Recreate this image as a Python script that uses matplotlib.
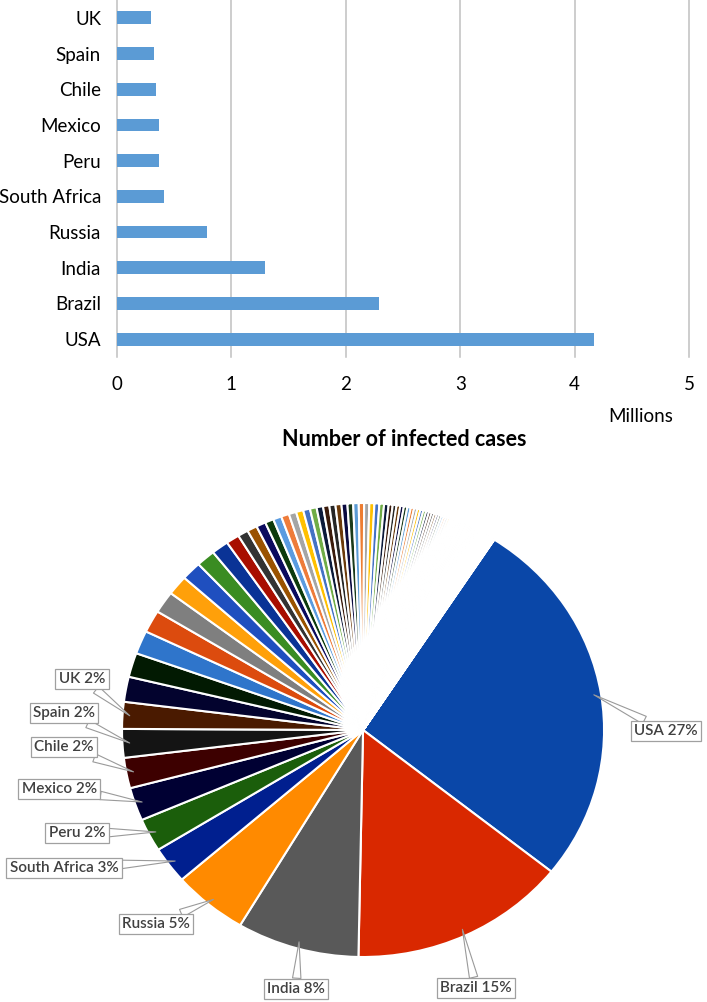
import numpy as np
import matplotlib
matplotlib.use("Agg")
import matplotlib.pyplot as plt

plt.rcParams['font.family'] = ['Lato', 'DejaVu Sans']

# ---------------- data ----------------
countries = ["USA", "Brazil", "India", "Russia", "South Africa",
             "Peru", "Mexico", "Chile", "Spain", "UK"]
cases_millions = [4.17, 2.29, 1.29, 0.79, 0.41, 0.37, 0.37, 0.34, 0.32, 0.30]

# remaining countries in the pie (millions)
other_cases = [0.28, 0.27, 0.26, 0.25, 0.245, 0.22, 0.21, 0.20, 0.18, 0.14,
               0.11, 0.105, 0.10, 0.09, 0.088, 0.084, 0.078, 0.076, 0.072, 0.070,
               0.068, 0.066, 0.064, 0.063, 0.062, 0.060, 0.058, 0.056, 0.054, 0.053,
               0.052, 0.049, 0.048, 0.042, 0.040, 0.039, 0.038, 0.037, 0.036, 0.035,
               0.034, 0.033, 0.032, 0.031, 0.030, 0.029, 0.028, 0.027, 0.026, 0.026,
               0.025, 0.024, 0.024, 0.023, 0.022, 0.022, 0.021, 0.020, 0.020, 0.019,
               0.018, 0.018, 0.017, 0.016, 0.016, 0.015,
               0.014, 0.014, 0.013, 0.013, 0.012, 0.012, 0.011, 0.011, 0.010, 0.010,
               0.010, 0.009, 0.009, 0.009, 0.008, 0.008, 0.008, 0.007, 0.007, 0.007,
               0.006, 0.006, 0.006, 0.006, 0.005, 0.005, 0.005, 0.005, 0.004, 0.004,
               0.004, 0.004, 0.003, 0.003, 0.003, 0.003, 0.003, 0.002, 0.002, 0.002,
               0.002, 0.002, 0.002]

xticks = [0, 1, 2, 3, 4, 5]

# ---------------- styles ----------------
main_colors = ['#0A47A8', '#D92800', '#595959', '#FF8A00', '#001F8F',
               '#1B5E0B', '#000033', '#3D0000', '#141414', '#4A1A00']
other_colors = ['#03032E', '#021A02', '#2F75CB', '#DC4B0E', '#7F7F7F',
                '#FFA00A', '#1F4FBF', '#3A8C22', '#0A3396', '#A80E00',
                '#333333', '#9A5200', '#0B0B5E', '#0C3A0C', '#5A9BE0',
                '#EE7C3A', '#A5A5A5', '#FFC000', '#4472C4', '#70AD47']
tail_cycle = ['#0B1A3A', '#3A1A0A', '#262626', '#6B3A0A', '#0A0A40', '#1A3A1A',
              '#5B9BD5', '#ED7D31', '#A5A5A5', '#FFC000', '#4472C4', '#70AD47']

fig = plt.figure(figsize=(7.07, 10.02), dpi=100)

# ---------------- bar chart ----------------
axb = fig.add_axes([0.1655, 0.6437, 0.809, 0.3563])
ypos = np.arange(len(countries))
axb.barh(ypos, cases_millions, height=0.36, color='#5B9BD5', zorder=3)
axb.set_xlim(0, 5)
axb.set_ylim(-0.5, len(countries) - 0.5)
axb.set_yticks(ypos)
axb.set_yticklabels(countries, fontsize=13.5)
axb.set_xticks(xticks)
axb.set_xticklabels([str(t) for t in xticks], fontsize=13.5)
axb.tick_params(axis='y', length=0, pad=11.5)
axb.tick_params(axis='x', length=0, pad=14)
for s in axb.spines.values():
    s.set_visible(False)
axb.grid(axis='x', color='#C0C0C0', linewidth=1.1, zorder=0)
axb.set_axisbelow(True)
for gl in axb.get_xgridlines():
    gl.set_clip_on(False)

fig.text(641 / 707, 1 - 417 / 1002, "Millions", fontsize=13.5, ha='center', va='center')
fig.text(404 / 707, 1 - 440 / 1002, "Number of infected cases", fontsize=15.5,
         fontweight='bold', ha='center', va='center')

# ---------------- pie chart ----------------
values = cases_millions + other_cases
colors = list(main_colors) + list(other_colors)
while len(colors) < len(values):
    colors.append(tail_cycle[(len(colors) - 30) % len(tail_cycle)])

axp = fig.add_axes([0.1726, 0.0449, 0.6818, 0.4531])
wedges, _ = axp.pie(values, colors=colors, startangle=57, counterclock=False,
                    wedgeprops=dict(edgecolor='white', linewidth=1.5))
axp.set_aspect('auto')
axp.set_xlim(-1, 1)
axp.set_ylim(-1, 1)
axp.axis('off')

total = sum(values)
label_pos = [(1.257, -0.004), (0.469, -1.137), (-0.278, -1.141), (-0.859, -0.855),
             (-1.241, -0.608), (-1.187, -0.454), (-1.261, -0.260), (-1.241, -0.075),
             (-1.241, 0.075), (-1.166, 0.225)]
for i, name in enumerate(countries):
    w = wedges[i]
    mid = np.deg2rad((w.theta1 + w.theta2) / 2)
    pt = (0.97 * np.cos(mid), 0.97 * np.sin(mid))
    pct = round(100 * cases_millions[i] / total)
    axp.annotate(f"{name} {pct}%", xy=pt, xytext=label_pos[i],
                 xycoords='data', textcoords='data', ha='center', va='center',
                 fontsize=11, fontweight='semibold', color='#404040',
                 annotation_clip=False,
                 bbox=dict(boxstyle='square,pad=0.22', fc='white', ec='#A0A0A0', lw=0.9),
                 arrowprops=dict(arrowstyle='wedge,tail_width=0.55', fc='white',
                                 ec='#9A9A9A', lw=0.8, shrinkA=0, shrinkB=0))

fig.savefig("out.png", dpi=100)
